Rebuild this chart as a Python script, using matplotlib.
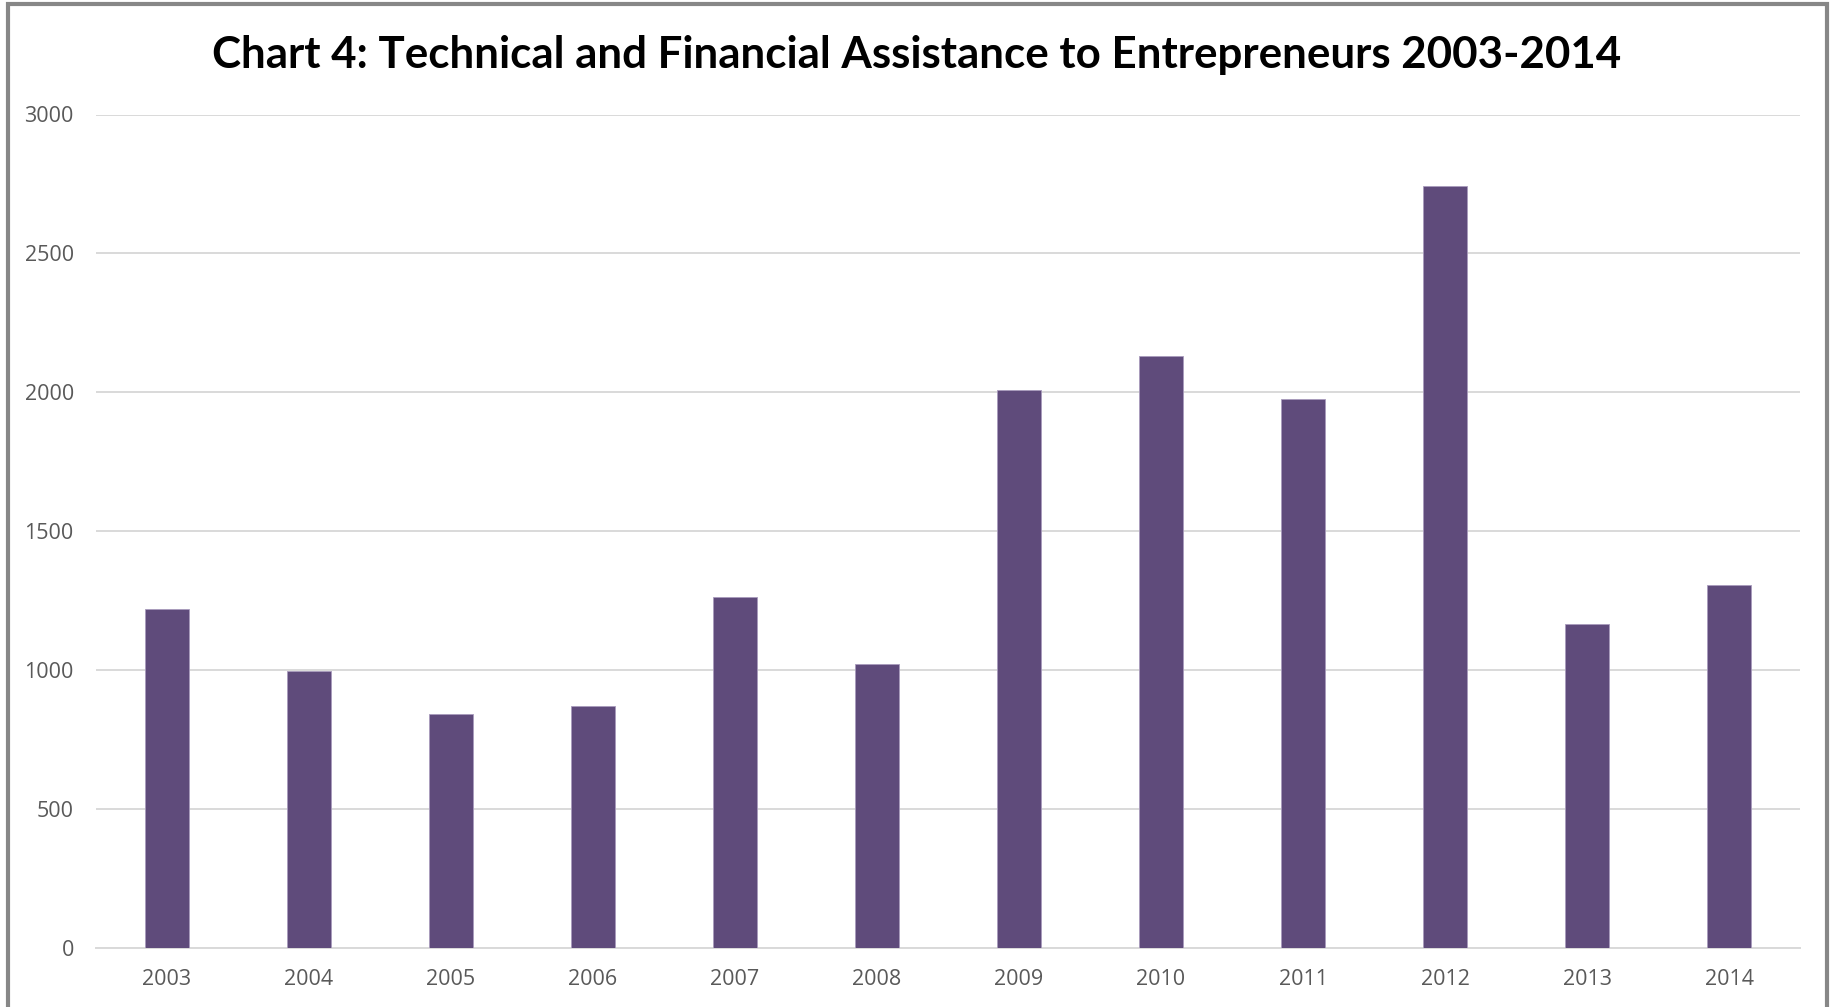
import numpy as np
import matplotlib
matplotlib.use("Agg")
from matplotlib import pyplot as plt
from matplotlib.patches import Rectangle

years = ["2003", "2004", "2005", "2006", "2007", "2008",
         "2009", "2010", "2011", "2012", "2013", "2014"]
assisted = [1219, 998, 841, 871, 1263, 1023, 2008, 2131, 1977, 2743, 1166, 1305]
y_ticks = [0, 500, 1000, 1500, 2000, 2500, 3000]

W, H, DPI = 1835, 1007, 100
fig = plt.figure(figsize=(W / DPI, H / DPI), dpi=DPI)
ax = fig.add_axes([96 / W, 1 - 947.7 / H, (1800 - 96) / W, (947.7 - 114.5) / H])

x = np.arange(len(years))
ax.bar(x, assisted, width=0.31, color="#5f4b7b", edgecolor="#a99bbd", linewidth=0.6, zorder=3)

ax.set_xlim(-0.5, len(years) - 0.5)
ax.set_ylim(0, 3000)
ax.set_yticks(y_ticks)
ax.set_xticks(x)
ax.set_xticklabels(years)

ax.grid(axis="y", color="#d9d9d9", linewidth=1.4, zorder=0)
for side in ("top", "right", "left"):
    ax.spines[side].set_visible(False)
ax.spines["bottom"].set_color("#d9d9d9")
ax.spines["bottom"].set_linewidth(1.4)
ax.tick_params(axis="both", length=0, labelsize=15.5, labelcolor="#595959")
ax.tick_params(axis="y", pad=16)
ax.tick_params(axis="x", pad=15)
for lbl in ax.get_xticklabels() + ax.get_yticklabels():
    lbl.set_fontfamily("Open Sans")

fig.text(917 / W, 1 - 55 / H, "Chart 4: Technical and Financial Assistance to Entrepreneurs 2003-2014",
         ha="center", va="center", fontsize=31.6, fontweight="bold", family="Lato", color="black")

# grey frame around the whole chart
fig.patches.append(Rectangle((8 / W, -0.05), (1827 - 8) / W, 1.05 - 3.5 / H,
                             transform=fig.transFigure, fill=False,
                             edgecolor="#878787", linewidth=3))

fig.savefig("out.png", dpi=DPI)
